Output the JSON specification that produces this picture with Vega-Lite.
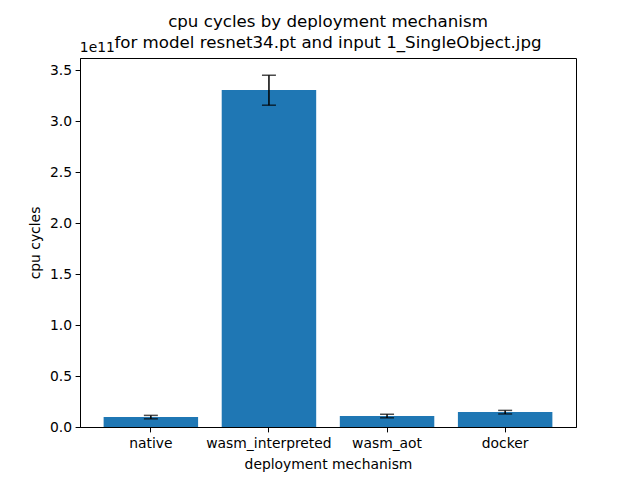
{
  "$schema": "https://vega.github.io/schema/vega-lite/v6.json",
  "width": 496,
  "height": 369,
  "autosize": "none",
  "padding": {"left": 80, "top": 58, "right": 64, "bottom": 53},
  "background": "white",
  "title": {
    "text": ["cpu cycles by deployment mechanism", "for model resnet34.pt and input 1_SingleObject.jpg"],
    "font": "DejaVu Sans",
    "fontSize": 16.67,
    "fontWeight": "normal",
    "color": "black",
    "lineHeight": 21,
    "offset": -11,
    "anchor": "middle"
  },
  "data": {
    "values": [
      {"mechanism": "native", "cycles": 0.097e11, "lower": 0.080e11, "upper": 0.114e11},
      {"mechanism": "wasm_interpreted", "cycles": 3.305e11, "lower": 3.157e11, "upper": 3.451e11},
      {"mechanism": "wasm_aot", "cycles": 0.108e11, "lower": 0.090e11, "upper": 0.125e11},
      {"mechanism": "docker", "cycles": 0.148e11, "lower": 0.128e11, "upper": 0.163e11}
    ]
  },
  "encoding": {
    "x": {
      "field": "mechanism",
      "type": "nominal",
      "sort": null,
      "scale": {"paddingInner": 0.2, "paddingOuter": 0.2},
      "axis": {"title": "deployment mechanism", "labelAngle": 0, "labelPadding": 5, "titlePadding": 7}
    }
  },
  "layer": [
    {
      "mark": {"type": "bar", "color": "#1f77b4"},
      "encoding": {
        "y": {
          "field": "cycles",
          "type": "quantitative",
          "scale": {"domain": [0, 3.62e11], "nice": false, "zero": true},
          "axis": {
            "title": "cpu cycles",
            "titlePadding": 7,
            "values": [0, 0.5e11, 1e11, 1.5e11, 2e11, 2.5e11, 3e11, 3.5e11],
            "labelExpr": "format(datum.value / 1e11, '.1f')"
          }
        }
      }
    },
    {
      "mark": {"type": "rule", "color": "black", "strokeWidth": 1.5},
      "encoding": {
        "y": {"field": "lower", "type": "quantitative"},
        "y2": {"field": "upper"}
      }
    },
    {
      "mark": {"type": "tick", "color": "black", "thickness": 1.5, "size": 14, "orient": "horizontal"},
      "encoding": {"y": {"field": "lower", "type": "quantitative"}}
    },
    {
      "mark": {"type": "tick", "color": "black", "thickness": 1.5, "size": 14, "orient": "horizontal"},
      "encoding": {"y": {"field": "upper", "type": "quantitative"}}
    },
    {
      "data": {"values": [{"label": "1e11", "mechanism": "native", "top": 3.62e11}]},
      "mark": {"type": "text", "font": "DejaVu Sans", "fontSize": 13.89, "color": "black", "align": "left", "baseline": "alphabetic", "dx": -71, "dy": -6},
      "encoding": {
        "y": {"field": "top", "type": "quantitative"},
        "text": {"field": "label"}
      }
    }
  ],
  "config": {
    "view": {"stroke": "black", "strokeWidth": 1},
    "axis": {
      "grid": false,
      "domainColor": "black",
      "tickColor": "black",
      "tickSize": 4.9,
      "labelColor": "black",
      "labelFont": "DejaVu Sans",
      "labelFontSize": 13.89,
      "labelPadding": 3.5,
      "titleFont": "DejaVu Sans",
      "titleFontSize": 13.89,
      "titleFontWeight": "normal",
      "titleColor": "black",
      "titlePadding": 4
    }
  }
}
